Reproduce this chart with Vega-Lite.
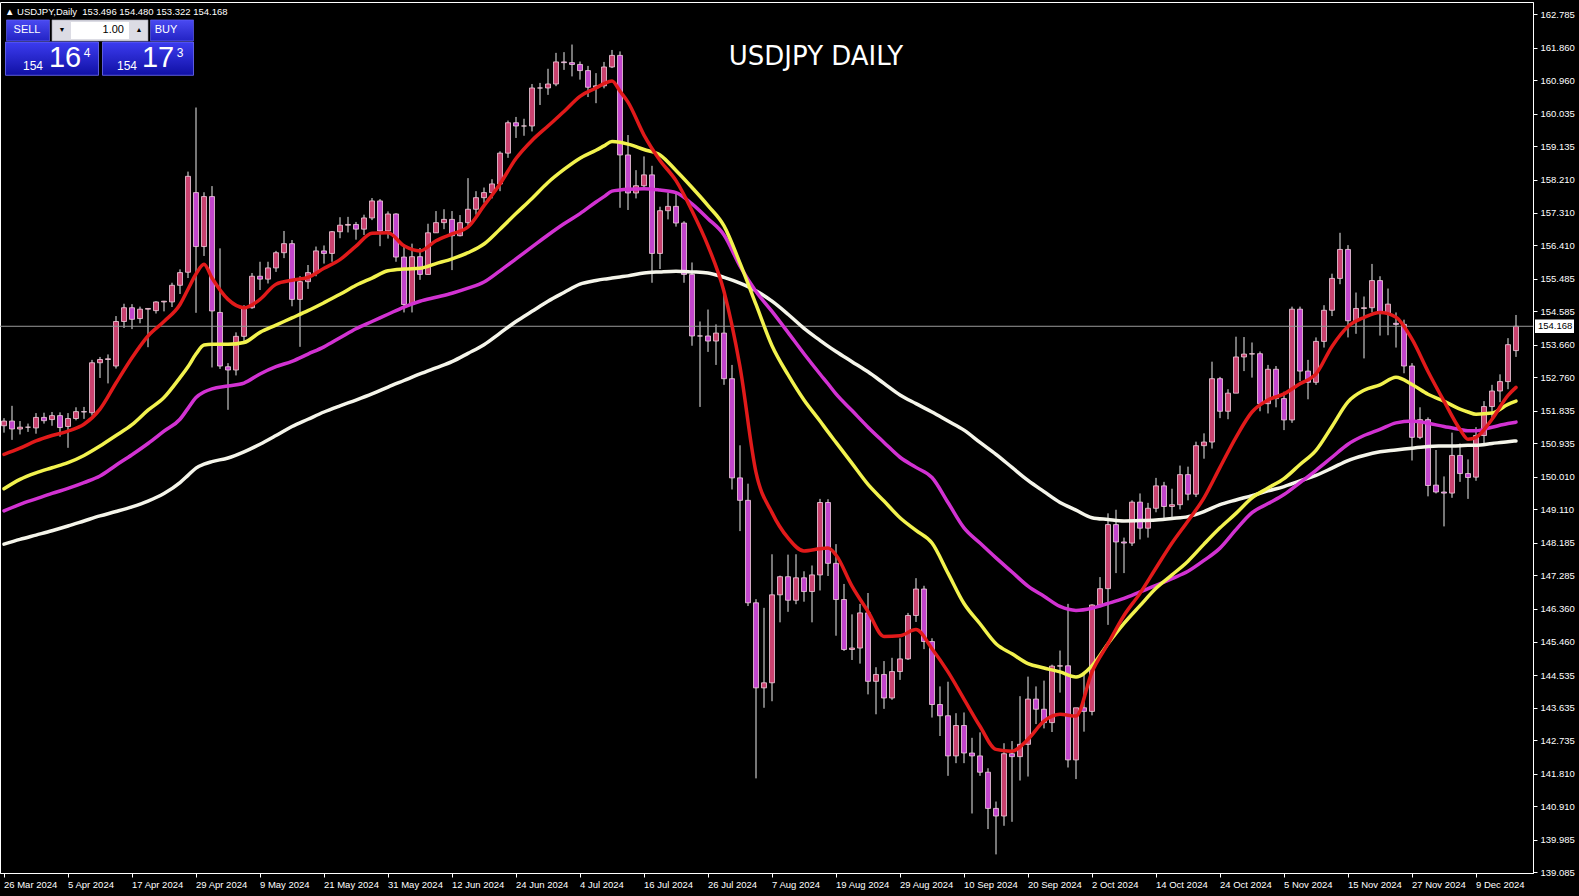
{
  "$schema": "https://vega.github.io/schema/vega-lite/v6.json",
  "width": 1533,
  "height": 871,
  "autosize": {"type": "none"},
  "padding": {"left": 0, "top": 2, "right": 46, "bottom": 23},
  "background": "#000000",
  "config": {
    "view": {"stroke": "#ffffff", "strokeWidth": 1, "fill": "#000000"},
    "font": "Liberation Sans",
    "axis": {"domainColor": "#ffffff", "tickColor": "#ffffff", "labelColor": "#ffffff", "grid": false}
  },
  "resolve": {"axis": {"x": "independent", "y": "independent"}},
  "datasets": {
    "bars": [
      {"d":"26 Mar 2024","o":151.42,"h":151.63,"l":151.23,"c":151.55},
      {"d":"27 Mar 2024","o":151.55,"h":151.97,"l":151.03,"c":151.33},
      {"d":"28 Mar 2024","o":151.33,"h":151.55,"l":151.18,"c":151.38},
      {"d":"29 Mar 2024","o":151.38,"h":151.48,"l":151.25,"c":151.38},
      {"d":"1 Apr 2024","o":151.36,"h":151.77,"l":151.20,"c":151.65},
      {"d":"2 Apr 2024","o":151.65,"h":151.78,"l":151.48,"c":151.56},
      {"d":"3 Apr 2024","o":151.59,"h":151.80,"l":151.42,"c":151.70},
      {"d":"4 Apr 2024","o":151.70,"h":151.79,"l":151.12,"c":151.37},
      {"d":"5 Apr 2024","o":151.40,"h":151.77,"l":150.81,"c":151.62},
      {"d":"8 Apr 2024","o":151.62,"h":151.93,"l":151.57,"c":151.81},
      {"d":"9 Apr 2024","o":151.81,"h":151.94,"l":151.61,"c":151.80},
      {"d":"10 Apr 2024","o":151.78,"h":153.24,"l":151.70,"c":153.16},
      {"d":"11 Apr 2024","o":153.16,"h":153.32,"l":152.74,"c":153.25},
      {"d":"12 Apr 2024","o":153.25,"h":153.39,"l":152.59,"c":153.27},
      {"d":"15 Apr 2024","o":153.07,"h":154.45,"l":153.00,"c":154.30},
      {"d":"16 Apr 2024","o":154.30,"h":154.79,"l":154.12,"c":154.68},
      {"d":"17 Apr 2024","o":154.68,"h":154.78,"l":154.09,"c":154.36},
      {"d":"18 Apr 2024","o":154.38,"h":154.71,"l":154.25,"c":154.64},
      {"d":"19 Apr 2024","o":154.64,"h":154.65,"l":153.59,"c":154.66},
      {"d":"22 Apr 2024","o":154.60,"h":154.86,"l":154.52,"c":154.84},
      {"d":"23 Apr 2024","o":154.84,"h":154.87,"l":154.58,"c":154.86},
      {"d":"24 Apr 2024","o":154.84,"h":155.37,"l":154.70,"c":155.30},
      {"d":"25 Apr 2024","o":155.30,"h":155.74,"l":155.06,"c":155.65},
      {"d":"26 Apr 2024","o":155.66,"h":158.44,"l":155.50,"c":158.31},
      {"d":"29 Apr 2024","o":157.86,"h":160.21,"l":154.54,"c":156.37},
      {"d":"30 Apr 2024","o":156.37,"h":157.87,"l":156.11,"c":157.75},
      {"d":"1 May 2024","o":157.75,"h":158.04,"l":153.03,"c":154.59},
      {"d":"2 May 2024","o":154.55,"h":156.32,"l":152.99,"c":153.07},
      {"d":"3 May 2024","o":153.05,"h":153.15,"l":151.86,"c":152.96},
      {"d":"6 May 2024","o":152.96,"h":154.00,"l":152.81,"c":153.89},
      {"d":"7 May 2024","o":153.89,"h":154.75,"l":153.74,"c":154.68},
      {"d":"8 May 2024","o":154.68,"h":155.64,"l":154.65,"c":155.55},
      {"d":"9 May 2024","o":155.55,"h":155.95,"l":155.17,"c":155.47},
      {"d":"10 May 2024","o":155.47,"h":155.95,"l":155.35,"c":155.78},
      {"d":"13 May 2024","o":155.78,"h":156.25,"l":155.67,"c":156.20},
      {"d":"14 May 2024","o":156.20,"h":156.80,"l":156.05,"c":156.45},
      {"d":"15 May 2024","o":156.45,"h":156.55,"l":154.72,"c":154.91},
      {"d":"16 May 2024","o":154.91,"h":155.55,"l":153.60,"c":155.40},
      {"d":"17 May 2024","o":155.40,"h":155.86,"l":155.20,"c":155.65},
      {"d":"20 May 2024","o":155.65,"h":156.37,"l":155.55,"c":156.25},
      {"d":"21 May 2024","o":156.25,"h":156.40,"l":155.90,"c":156.18},
      {"d":"22 May 2024","o":156.18,"h":156.80,"l":155.95,"c":156.78},
      {"d":"23 May 2024","o":156.78,"h":157.18,"l":156.60,"c":156.96},
      {"d":"24 May 2024","o":156.96,"h":157.19,"l":156.76,"c":156.98},
      {"d":"27 May 2024","o":156.98,"h":157.05,"l":156.56,"c":156.85},
      {"d":"28 May 2024","o":156.85,"h":157.25,"l":156.69,"c":157.16},
      {"d":"29 May 2024","o":157.16,"h":157.71,"l":157.10,"c":157.63},
      {"d":"30 May 2024","o":157.63,"h":157.68,"l":156.38,"c":156.80},
      {"d":"31 May 2024","o":156.80,"h":157.34,"l":156.59,"c":157.27},
      {"d":"3 Jun 2024","o":157.27,"h":157.29,"l":155.95,"c":156.08},
      {"d":"4 Jun 2024","o":156.08,"h":156.43,"l":154.55,"c":154.77},
      {"d":"5 Jun 2024","o":154.77,"h":156.45,"l":154.55,"c":156.09},
      {"d":"6 Jun 2024","o":156.09,"h":156.33,"l":155.45,"c":155.60},
      {"d":"7 Jun 2024","o":155.60,"h":157.00,"l":155.60,"c":156.75},
      {"d":"10 Jun 2024","o":156.75,"h":157.35,"l":156.75,"c":157.03},
      {"d":"11 Jun 2024","o":157.03,"h":157.40,"l":156.85,"c":157.12},
      {"d":"12 Jun 2024","o":157.12,"h":157.35,"l":155.72,"c":156.67},
      {"d":"13 Jun 2024","o":156.67,"h":157.24,"l":156.65,"c":157.03},
      {"d":"14 Jun 2024","o":157.03,"h":158.26,"l":156.90,"c":157.40},
      {"d":"17 Jun 2024","o":157.40,"h":157.90,"l":157.25,"c":157.72},
      {"d":"18 Jun 2024","o":157.72,"h":158.00,"l":157.58,"c":157.86},
      {"d":"19 Jun 2024","o":157.86,"h":158.23,"l":157.70,"c":158.10},
      {"d":"20 Jun 2024","o":158.10,"h":159.00,"l":157.90,"c":158.95},
      {"d":"21 Jun 2024","o":158.95,"h":159.85,"l":158.82,"c":159.79},
      {"d":"24 Jun 2024","o":159.79,"h":159.95,"l":159.37,"c":159.70},
      {"d":"25 Jun 2024","o":159.70,"h":159.90,"l":159.43,"c":159.70},
      {"d":"26 Jun 2024","o":159.70,"h":160.86,"l":159.55,"c":160.75},
      {"d":"27 Jun 2024","o":160.75,"h":160.89,"l":160.28,"c":160.75},
      {"d":"28 Jun 2024","o":160.75,"h":161.28,"l":160.56,"c":160.86},
      {"d":"1 Jul 2024","o":160.86,"h":161.72,"l":160.80,"c":161.47},
      {"d":"2 Jul 2024","o":161.47,"h":161.74,"l":161.25,"c":161.45},
      {"d":"3 Jul 2024","o":161.45,"h":161.95,"l":161.07,"c":161.40},
      {"d":"4 Jul 2024","o":161.40,"h":161.48,"l":160.98,"c":161.23},
      {"d":"5 Jul 2024","o":161.23,"h":161.36,"l":160.50,"c":160.77},
      {"d":"8 Jul 2024","o":160.77,"h":161.16,"l":160.33,"c":160.81},
      {"d":"9 Jul 2024","o":160.81,"h":161.47,"l":160.74,"c":161.33},
      {"d":"10 Jul 2024","o":161.33,"h":161.80,"l":161.30,"c":161.65},
      {"d":"11 Jul 2024","o":161.65,"h":161.76,"l":157.44,"c":158.90},
      {"d":"12 Jul 2024","o":158.90,"h":159.45,"l":157.38,"c":157.85},
      {"d":"15 Jul 2024","o":157.85,"h":158.48,"l":157.70,"c":158.05},
      {"d":"16 Jul 2024","o":158.05,"h":158.86,"l":157.93,"c":158.35},
      {"d":"17 Jul 2024","o":158.35,"h":158.60,"l":155.37,"c":156.18},
      {"d":"18 Jul 2024","o":156.18,"h":157.47,"l":155.75,"c":157.36},
      {"d":"19 Jul 2024","o":157.36,"h":157.86,"l":157.12,"c":157.48},
      {"d":"22 Jul 2024","o":157.48,"h":157.85,"l":156.92,"c":157.02},
      {"d":"23 Jul 2024","o":157.02,"h":157.07,"l":155.37,"c":155.60},
      {"d":"24 Jul 2024","o":155.60,"h":155.93,"l":153.63,"c":153.90},
      {"d":"25 Jul 2024","o":153.90,"h":154.30,"l":151.94,"c":153.90},
      {"d":"26 Jul 2024","o":153.90,"h":154.63,"l":153.46,"c":153.76},
      {"d":"29 Jul 2024","o":153.76,"h":154.22,"l":153.10,"c":153.98},
      {"d":"30 Jul 2024","o":153.98,"h":155.22,"l":152.55,"c":152.72},
      {"d":"31 Jul 2024","o":152.72,"h":153.10,"l":149.66,"c":149.98},
      {"d":"1 Aug 2024","o":149.98,"h":150.88,"l":148.51,"c":149.36},
      {"d":"2 Aug 2024","o":149.36,"h":149.82,"l":146.44,"c":146.53},
      {"d":"5 Aug 2024","o":146.53,"h":146.63,"l":141.68,"c":144.18},
      {"d":"6 Aug 2024","o":144.18,"h":146.39,"l":143.63,"c":144.32},
      {"d":"7 Aug 2024","o":144.32,"h":147.87,"l":143.81,"c":146.75},
      {"d":"8 Aug 2024","o":146.75,"h":147.28,"l":145.99,"c":147.25},
      {"d":"9 Aug 2024","o":147.25,"h":147.86,"l":146.28,"c":146.60},
      {"d":"12 Aug 2024","o":146.60,"h":147.87,"l":146.49,"c":147.22},
      {"d":"13 Aug 2024","o":147.22,"h":147.40,"l":146.56,"c":146.84},
      {"d":"14 Aug 2024","o":146.84,"h":147.56,"l":145.99,"c":147.30},
      {"d":"15 Aug 2024","o":147.30,"h":149.40,"l":146.87,"c":149.30},
      {"d":"16 Aug 2024","o":149.30,"h":149.39,"l":147.27,"c":147.62},
      {"d":"19 Aug 2024","o":147.62,"h":148.15,"l":145.62,"c":146.62},
      {"d":"20 Aug 2024","o":146.62,"h":147.05,"l":145.20,"c":145.24},
      {"d":"21 Aug 2024","o":145.24,"h":146.21,"l":144.95,"c":145.28},
      {"d":"22 Aug 2024","o":145.28,"h":146.50,"l":144.85,"c":146.25},
      {"d":"23 Aug 2024","o":146.25,"h":146.80,"l":144.00,"c":144.36},
      {"d":"26 Aug 2024","o":144.36,"h":144.75,"l":143.45,"c":144.55},
      {"d":"27 Aug 2024","o":144.55,"h":144.92,"l":143.60,"c":143.90},
      {"d":"28 Aug 2024","o":143.90,"h":145.01,"l":143.85,"c":144.63},
      {"d":"29 Aug 2024","o":144.63,"h":145.55,"l":144.40,"c":144.98},
      {"d":"30 Aug 2024","o":144.98,"h":146.25,"l":144.95,"c":146.18},
      {"d":"2 Sep 2024","o":146.18,"h":147.21,"l":146.00,"c":146.91},
      {"d":"3 Sep 2024","o":146.91,"h":147.00,"l":145.25,"c":145.46},
      {"d":"4 Sep 2024","o":145.46,"h":145.55,"l":143.36,"c":143.72},
      {"d":"5 Sep 2024","o":143.72,"h":144.22,"l":142.85,"c":143.41},
      {"d":"6 Sep 2024","o":143.41,"h":144.35,"l":141.75,"c":142.30},
      {"d":"9 Sep 2024","o":142.30,"h":143.48,"l":142.10,"c":143.14},
      {"d":"10 Sep 2024","o":143.14,"h":143.50,"l":142.10,"c":142.38},
      {"d":"11 Sep 2024","o":142.38,"h":142.80,"l":140.71,"c":142.30},
      {"d":"12 Sep 2024","o":142.30,"h":142.95,"l":141.75,"c":141.85},
      {"d":"13 Sep 2024","o":141.85,"h":141.96,"l":140.28,"c":140.85},
      {"d":"16 Sep 2024","o":140.85,"h":141.04,"l":139.58,"c":140.64},
      {"d":"17 Sep 2024","o":140.64,"h":142.65,"l":140.37,"c":142.36},
      {"d":"18 Sep 2024","o":142.36,"h":142.71,"l":140.48,"c":142.28},
      {"d":"19 Sep 2024","o":142.28,"h":143.95,"l":141.62,"c":142.62},
      {"d":"20 Sep 2024","o":142.62,"h":144.49,"l":141.73,"c":143.87},
      {"d":"23 Sep 2024","o":143.87,"h":144.22,"l":143.18,"c":143.59},
      {"d":"24 Sep 2024","o":143.59,"h":144.38,"l":143.06,"c":143.22},
      {"d":"25 Sep 2024","o":143.22,"h":144.82,"l":142.96,"c":144.78},
      {"d":"26 Sep 2024","o":144.78,"h":145.21,"l":144.05,"c":144.79},
      {"d":"27 Sep 2024","o":144.79,"h":146.50,"l":141.98,"c":142.19},
      {"d":"30 Sep 2024","o":142.19,"h":143.48,"l":141.66,"c":143.63},
      {"d":"1 Oct 2024","o":143.63,"h":144.54,"l":142.97,"c":143.53},
      {"d":"2 Oct 2024","o":143.53,"h":146.49,"l":143.42,"c":146.47},
      {"d":"3 Oct 2024","o":146.47,"h":147.24,"l":146.41,"c":146.92},
      {"d":"4 Oct 2024","o":146.92,"h":149.00,"l":145.92,"c":148.69},
      {"d":"7 Oct 2024","o":148.69,"h":149.10,"l":147.35,"c":148.21},
      {"d":"8 Oct 2024","o":148.21,"h":148.33,"l":147.35,"c":148.18},
      {"d":"9 Oct 2024","o":148.18,"h":149.36,"l":148.10,"c":149.31},
      {"d":"10 Oct 2024","o":149.31,"h":149.55,"l":148.28,"c":148.59},
      {"d":"11 Oct 2024","o":148.59,"h":149.29,"l":148.33,"c":149.14},
      {"d":"14 Oct 2024","o":149.14,"h":149.98,"l":149.03,"c":149.76},
      {"d":"15 Oct 2024","o":149.76,"h":149.87,"l":148.85,"c":149.19},
      {"d":"16 Oct 2024","o":149.19,"h":149.68,"l":148.87,"c":149.24},
      {"d":"17 Oct 2024","o":149.24,"h":150.32,"l":149.11,"c":150.07},
      {"d":"18 Oct 2024","o":150.07,"h":150.29,"l":149.36,"c":149.53},
      {"d":"21 Oct 2024","o":149.53,"h":150.98,"l":149.45,"c":150.87},
      {"d":"22 Oct 2024","o":150.87,"h":151.21,"l":150.51,"c":150.97},
      {"d":"23 Oct 2024","o":150.97,"h":153.19,"l":150.79,"c":152.72},
      {"d":"24 Oct 2024","o":152.72,"h":152.77,"l":151.63,"c":151.82},
      {"d":"25 Oct 2024","o":151.82,"h":152.43,"l":151.60,"c":152.32},
      {"d":"28 Oct 2024","o":152.32,"h":153.88,"l":152.32,"c":153.32},
      {"d":"29 Oct 2024","o":153.32,"h":153.87,"l":152.93,"c":153.40},
      {"d":"30 Oct 2024","o":153.40,"h":153.72,"l":152.75,"c":153.41},
      {"d":"31 Oct 2024","o":153.41,"h":153.47,"l":151.82,"c":152.03},
      {"d":"1 Nov 2024","o":152.03,"h":153.10,"l":151.76,"c":152.98},
      {"d":"4 Nov 2024","o":152.98,"h":153.07,"l":151.93,"c":152.17},
      {"d":"5 Nov 2024","o":152.17,"h":152.36,"l":151.30,"c":151.58},
      {"d":"6 Nov 2024","o":151.58,"h":154.71,"l":151.50,"c":154.64},
      {"d":"7 Nov 2024","o":154.64,"h":154.71,"l":152.65,"c":152.93},
      {"d":"8 Nov 2024","o":152.93,"h":153.24,"l":152.15,"c":152.62},
      {"d":"11 Nov 2024","o":152.62,"h":153.86,"l":152.55,"c":153.75},
      {"d":"12 Nov 2024","o":153.75,"h":154.75,"l":153.58,"c":154.61},
      {"d":"13 Nov 2024","o":154.61,"h":155.62,"l":154.45,"c":155.49},
      {"d":"14 Nov 2024","o":155.49,"h":156.75,"l":155.33,"c":156.29},
      {"d":"15 Nov 2024","o":156.29,"h":156.41,"l":153.86,"c":154.32},
      {"d":"18 Nov 2024","o":154.32,"h":155.10,"l":153.96,"c":154.66},
      {"d":"19 Nov 2024","o":154.66,"h":154.99,"l":153.28,"c":154.68},
      {"d":"20 Nov 2024","o":154.68,"h":155.89,"l":154.55,"c":155.43},
      {"d":"21 Nov 2024","o":155.43,"h":155.55,"l":153.91,"c":154.53},
      {"d":"22 Nov 2024","o":154.53,"h":155.21,"l":153.92,"c":154.78},
      {"d":"25 Nov 2024","o":154.25,"h":154.55,"l":153.58,"c":154.22},
      {"d":"26 Nov 2024","o":154.22,"h":154.35,"l":152.87,"c":153.07},
      {"d":"27 Nov 2024","o":153.07,"h":153.15,"l":150.46,"c":151.10},
      {"d":"28 Nov 2024","o":151.10,"h":151.93,"l":151.05,"c":151.59},
      {"d":"29 Nov 2024","o":151.59,"h":151.65,"l":149.47,"c":149.77},
      {"d":"2 Dec 2024","o":149.78,"h":150.75,"l":149.55,"c":149.59},
      {"d":"3 Dec 2024","o":149.59,"h":150.02,"l":148.64,"c":149.56},
      {"d":"4 Dec 2024","o":149.56,"h":151.23,"l":149.43,"c":150.60},
      {"d":"5 Dec 2024","o":150.60,"h":150.93,"l":149.87,"c":150.10},
      {"d":"6 Dec 2024","o":150.10,"h":150.49,"l":149.40,"c":149.99},
      {"d":"9 Dec 2024","o":150.00,"h":151.38,"l":149.90,"c":151.15},
      {"d":"10 Dec 2024","o":151.15,"h":152.10,"l":150.90,"c":151.95},
      {"d":"11 Dec 2024","o":151.95,"h":152.55,"l":151.60,"c":152.38},
      {"d":"12 Dec 2024","o":152.38,"h":152.84,"l":152.07,"c":152.64},
      {"d":"13 Dec 2024","o":152.64,"h":153.84,"l":152.43,"c":153.66},
      {"d":"16 Dec 2024","o":153.496,"h":154.480,"l":153.322,"c":154.168}
    ],
    "ma": [
      {"d":"26 Mar 2024","fast":150.63,"mid":149.68,"slow":149.07,"long":148.15},
      {"d":"28 Mar 2024","fast":150.80,"mid":149.94,"slow":149.25,"long":148.28},
      {"d":"1 Apr 2024","fast":151.00,"mid":150.12,"slow":149.40,"long":148.40},
      {"d":"3 Apr 2024","fast":151.15,"mid":150.26,"slow":149.55,"long":148.52},
      {"d":"5 Apr 2024","fast":151.27,"mid":150.40,"slow":149.69,"long":148.65},
      {"d":"9 Apr 2024","fast":151.46,"mid":150.60,"slow":149.85,"long":148.79},
      {"d":"11 Apr 2024","fast":151.88,"mid":150.86,"slow":150.03,"long":148.93},
      {"d":"15 Apr 2024","fast":152.60,"mid":151.15,"slow":150.33,"long":149.05},
      {"d":"17 Apr 2024","fast":153.30,"mid":151.45,"slow":150.62,"long":149.18},
      {"d":"19 Apr 2024","fast":153.90,"mid":151.85,"slow":150.93,"long":149.34},
      {"d":"23 Apr 2024","fast":154.30,"mid":152.20,"slow":151.27,"long":149.55},
      {"d":"25 Apr 2024","fast":154.77,"mid":152.75,"slow":151.60,"long":149.85},
      {"d":"26 Apr 2024","fast":155.19,"mid":153.05,"slow":151.90,"long":150.05},
      {"d":"29 Apr 2024","fast":155.61,"mid":153.40,"slow":152.20,"long":150.25},
      {"d":"30 Apr 2024","fast":155.88,"mid":153.65,"slow":152.35,"long":150.36},
      {"d":"1 May 2024","fast":155.50,"mid":153.67,"slow":152.44,"long":150.43},
      {"d":"3 May 2024","fast":154.91,"mid":153.67,"slow":152.52,"long":150.53},
      {"d":"7 May 2024","fast":154.68,"mid":153.72,"slow":152.60,"long":150.70},
      {"d":"9 May 2024","fast":154.91,"mid":154.00,"slow":152.85,"long":150.91},
      {"d":"13 May 2024","fast":155.33,"mid":154.20,"slow":153.05,"long":151.15},
      {"d":"15 May 2024","fast":155.44,"mid":154.40,"slow":153.20,"long":151.40},
      {"d":"17 May 2024","fast":155.52,"mid":154.60,"slow":153.40,"long":151.60},
      {"d":"21 May 2024","fast":155.77,"mid":154.82,"slow":153.60,"long":151.80},
      {"d":"23 May 2024","fast":156.01,"mid":155.05,"slow":153.85,"long":151.97},
      {"d":"27 May 2024","fast":156.38,"mid":155.30,"slow":154.10,"long":152.13},
      {"d":"29 May 2024","fast":156.74,"mid":155.50,"slow":154.30,"long":152.30},
      {"d":"31 May 2024","fast":156.75,"mid":155.70,"slow":154.50,"long":152.49},
      {"d":"4 Jun 2024","fast":156.39,"mid":155.75,"slow":154.70,"long":152.67},
      {"d":"6 Jun 2024","fast":156.25,"mid":155.77,"slow":154.86,"long":152.85},
      {"d":"10 Jun 2024","fast":156.53,"mid":155.90,"slow":154.97,"long":153.02},
      {"d":"12 Jun 2024","fast":156.72,"mid":156.03,"slow":155.08,"long":153.19},
      {"d":"14 Jun 2024","fast":156.91,"mid":156.20,"slow":155.22,"long":153.42},
      {"d":"18 Jun 2024","fast":157.50,"mid":156.44,"slow":155.39,"long":153.66},
      {"d":"20 Jun 2024","fast":158.10,"mid":156.85,"slow":155.70,"long":153.98},
      {"d":"24 Jun 2024","fast":158.80,"mid":157.28,"slow":156.03,"long":154.30},
      {"d":"26 Jun 2024","fast":159.30,"mid":157.70,"slow":156.36,"long":154.58},
      {"d":"28 Jun 2024","fast":159.70,"mid":158.14,"slow":156.69,"long":154.86},
      {"d":"2 Jul 2024","fast":160.10,"mid":158.50,"slow":157.00,"long":155.10},
      {"d":"4 Jul 2024","fast":160.52,"mid":158.81,"slow":157.28,"long":155.33},
      {"d":"8 Jul 2024","fast":160.75,"mid":159.03,"slow":157.60,"long":155.43},
      {"d":"9 Jul 2024","fast":160.87,"mid":159.15,"slow":157.75,"long":155.47},
      {"d":"10 Jul 2024","fast":160.94,"mid":159.27,"slow":157.90,"long":155.50},
      {"d":"11 Jul 2024","fast":160.66,"mid":159.25,"slow":157.93,"long":155.53},
      {"d":"12 Jul 2024","fast":160.36,"mid":159.20,"slow":157.95,"long":155.56},
      {"d":"16 Jul 2024","fast":159.45,"mid":159.05,"slow":157.97,"long":155.64},
      {"d":"18 Jul 2024","fast":158.75,"mid":158.90,"slow":157.93,"long":155.67},
      {"d":"22 Jul 2024","fast":158.19,"mid":158.47,"slow":157.86,"long":155.69},
      {"d":"24 Jul 2024","fast":157.36,"mid":158.00,"slow":157.55,"long":155.67},
      {"d":"26 Jul 2024","fast":156.39,"mid":157.50,"slow":157.14,"long":155.64},
      {"d":"30 Jul 2024","fast":155.13,"mid":156.94,"slow":156.69,"long":155.52},
      {"d":"1 Aug 2024","fast":153.05,"mid":155.91,"slow":155.83,"long":155.36},
      {"d":"5 Aug 2024","fast":150.13,"mid":154.77,"slow":155.13,"long":155.15},
      {"d":"7 Aug 2024","fast":149.02,"mid":153.63,"slow":154.58,"long":154.86},
      {"d":"9 Aug 2024","fast":148.32,"mid":152.83,"slow":154.00,"long":154.50},
      {"d":"13 Aug 2024","fast":147.96,"mid":152.13,"slow":153.41,"long":154.11},
      {"d":"15 Aug 2024","fast":148.02,"mid":151.55,"slow":152.85,"long":153.78},
      {"d":"16 Aug 2024","fast":148.04,"mid":151.25,"slow":152.58,"long":153.62},
      {"d":"19 Aug 2024","fast":147.85,"mid":150.96,"slow":152.30,"long":153.47},
      {"d":"21 Aug 2024","fast":146.99,"mid":150.38,"slow":151.84,"long":153.19},
      {"d":"23 Aug 2024","fast":146.29,"mid":149.80,"slow":151.38,"long":152.91},
      {"d":"27 Aug 2024","fast":145.60,"mid":149.34,"slow":150.96,"long":152.59},
      {"d":"29 Aug 2024","fast":145.62,"mid":148.88,"slow":150.55,"long":152.27},
      {"d":"2 Sep 2024","fast":145.79,"mid":148.53,"slow":150.27,"long":152.03},
      {"d":"4 Sep 2024","fast":145.26,"mid":148.18,"slow":149.99,"long":151.80},
      {"d":"6 Sep 2024","fast":144.62,"mid":147.35,"slow":149.30,"long":151.55},
      {"d":"10 Sep 2024","fast":143.87,"mid":146.51,"slow":148.60,"long":151.30},
      {"d":"12 Sep 2024","fast":143.12,"mid":145.95,"slow":148.18,"long":150.96},
      {"d":"16 Sep 2024","fast":142.48,"mid":145.40,"slow":147.77,"long":150.63},
      {"d":"18 Sep 2024","fast":142.43,"mid":145.12,"slow":147.38,"long":150.27},
      {"d":"20 Sep 2024","fast":142.76,"mid":144.85,"slow":146.99,"long":149.91},
      {"d":"24 Sep 2024","fast":143.26,"mid":144.73,"slow":146.71,"long":149.60},
      {"d":"26 Sep 2024","fast":143.45,"mid":144.62,"slow":146.43,"long":149.30},
      {"d":"30 Sep 2024","fast":143.40,"mid":144.48,"slow":146.32,"long":149.09},
      {"d":"2 Oct 2024","fast":144.62,"mid":144.79,"slow":146.38,"long":148.88},
      {"d":"4 Oct 2024","fast":145.40,"mid":145.40,"slow":146.51,"long":148.83},
      {"d":"8 Oct 2024","fast":146.18,"mid":145.96,"slow":146.65,"long":148.79},
      {"d":"10 Oct 2024","fast":146.79,"mid":146.45,"slow":146.83,"long":148.80},
      {"d":"14 Oct 2024","fast":147.49,"mid":146.93,"slow":147.01,"long":148.82},
      {"d":"16 Oct 2024","fast":148.18,"mid":147.30,"slow":147.20,"long":148.86},
      {"d":"18 Oct 2024","fast":148.79,"mid":147.68,"slow":147.40,"long":148.91},
      {"d":"22 Oct 2024","fast":149.43,"mid":148.15,"slow":147.70,"long":149.05},
      {"d":"24 Oct 2024","fast":150.27,"mid":148.60,"slow":148.04,"long":149.24},
      {"d":"28 Oct 2024","fast":151.10,"mid":149.00,"slow":148.55,"long":149.37},
      {"d":"30 Oct 2024","fast":151.80,"mid":149.43,"slow":149.02,"long":149.49},
      {"d":"1 Nov 2024","fast":152.13,"mid":149.70,"slow":149.27,"long":149.62},
      {"d":"5 Nov 2024","fast":152.30,"mid":149.96,"slow":149.52,"long":149.74},
      {"d":"7 Nov 2024","fast":152.58,"mid":150.35,"slow":149.85,"long":149.90},
      {"d":"11 Nov 2024","fast":152.85,"mid":150.74,"slow":150.19,"long":150.05},
      {"d":"13 Nov 2024","fast":153.61,"mid":151.40,"slow":150.55,"long":150.25},
      {"d":"15 Nov 2024","fast":154.16,"mid":152.08,"slow":150.91,"long":150.46},
      {"d":"19 Nov 2024","fast":154.41,"mid":152.40,"slow":151.15,"long":150.60},
      {"d":"21 Nov 2024","fast":154.55,"mid":152.55,"slow":151.32,"long":150.70},
      {"d":"25 Nov 2024","fast":154.42,"mid":152.76,"slow":151.50,"long":150.75},
      {"d":"27 Nov 2024","fast":153.81,"mid":152.56,"slow":151.55,"long":150.80},
      {"d":"29 Nov 2024","fast":152.92,"mid":152.29,"slow":151.49,"long":150.85},
      {"d":"3 Dec 2024","fast":152.10,"mid":152.10,"slow":151.40,"long":150.86},
      {"d":"5 Dec 2024","fast":151.32,"mid":151.88,"slow":151.32,"long":150.87},
      {"d":"6 Dec 2024","fast":151.05,"mid":151.80,"slow":151.28,"long":150.88},
      {"d":"9 Dec 2024","fast":151.10,"mid":151.74,"slow":151.28,"long":150.88},
      {"d":"11 Dec 2024","fast":151.60,"mid":151.77,"slow":151.38,"long":150.93},
      {"d":"13 Dec 2024","fast":152.26,"mid":152.01,"slow":151.48,"long":150.98},
      {"d":"16 Dec 2024","fast":152.48,"mid":152.10,"slow":151.52,"long":151.00}
    ]
  },
  "layer": [
    {
      "data": {"name": "bars"},
      "mark": {"type": "rule", "color": "#ececec", "strokeWidth": 1},
      "encoding": {
        "x": {
          "field": "d", "type": "ordinal",
          "scale": {
            "type": "band", "paddingInner": 0, "paddingOuter": 0.8125, "align": 0,
            "domain": ["26 Mar 2024","27 Mar 2024","28 Mar 2024","29 Mar 2024","1 Apr 2024","2 Apr 2024","3 Apr 2024","4 Apr 2024","5 Apr 2024","8 Apr 2024","9 Apr 2024","10 Apr 2024","11 Apr 2024","12 Apr 2024","15 Apr 2024","16 Apr 2024","17 Apr 2024","18 Apr 2024","19 Apr 2024","22 Apr 2024","23 Apr 2024","24 Apr 2024","25 Apr 2024","26 Apr 2024","29 Apr 2024","30 Apr 2024","1 May 2024","2 May 2024","3 May 2024","6 May 2024","7 May 2024","8 May 2024","9 May 2024","10 May 2024","13 May 2024","14 May 2024","15 May 2024","16 May 2024","17 May 2024","20 May 2024","21 May 2024","22 May 2024","23 May 2024","24 May 2024","27 May 2024","28 May 2024","29 May 2024","30 May 2024","31 May 2024","3 Jun 2024","4 Jun 2024","5 Jun 2024","6 Jun 2024","7 Jun 2024","10 Jun 2024","11 Jun 2024","12 Jun 2024","13 Jun 2024","14 Jun 2024","17 Jun 2024","18 Jun 2024","19 Jun 2024","20 Jun 2024","21 Jun 2024","24 Jun 2024","25 Jun 2024","26 Jun 2024","27 Jun 2024","28 Jun 2024","1 Jul 2024","2 Jul 2024","3 Jul 2024","4 Jul 2024","5 Jul 2024","8 Jul 2024","9 Jul 2024","10 Jul 2024","11 Jul 2024","12 Jul 2024","15 Jul 2024","16 Jul 2024","17 Jul 2024","18 Jul 2024","19 Jul 2024","22 Jul 2024","23 Jul 2024","24 Jul 2024","25 Jul 2024","26 Jul 2024","29 Jul 2024","30 Jul 2024","31 Jul 2024","1 Aug 2024","2 Aug 2024","5 Aug 2024","6 Aug 2024","7 Aug 2024","8 Aug 2024","9 Aug 2024","12 Aug 2024","13 Aug 2024","14 Aug 2024","15 Aug 2024","16 Aug 2024","19 Aug 2024","20 Aug 2024","21 Aug 2024","22 Aug 2024","23 Aug 2024","26 Aug 2024","27 Aug 2024","28 Aug 2024","29 Aug 2024","30 Aug 2024","2 Sep 2024","3 Sep 2024","4 Sep 2024","5 Sep 2024","6 Sep 2024","9 Sep 2024","10 Sep 2024","11 Sep 2024","12 Sep 2024","13 Sep 2024","16 Sep 2024","17 Sep 2024","18 Sep 2024","19 Sep 2024","20 Sep 2024","23 Sep 2024","24 Sep 2024","25 Sep 2024","26 Sep 2024","27 Sep 2024","30 Sep 2024","1 Oct 2024","2 Oct 2024","3 Oct 2024","4 Oct 2024","7 Oct 2024","8 Oct 2024","9 Oct 2024","10 Oct 2024","11 Oct 2024","14 Oct 2024","15 Oct 2024","16 Oct 2024","17 Oct 2024","18 Oct 2024","21 Oct 2024","22 Oct 2024","23 Oct 2024","24 Oct 2024","25 Oct 2024","28 Oct 2024","29 Oct 2024","30 Oct 2024","31 Oct 2024","1 Nov 2024","4 Nov 2024","5 Nov 2024","6 Nov 2024","7 Nov 2024","8 Nov 2024","11 Nov 2024","12 Nov 2024","13 Nov 2024","14 Nov 2024","15 Nov 2024","18 Nov 2024","19 Nov 2024","20 Nov 2024","21 Nov 2024","22 Nov 2024","25 Nov 2024","26 Nov 2024","27 Nov 2024","28 Nov 2024","29 Nov 2024","2 Dec 2024","3 Dec 2024","4 Dec 2024","5 Dec 2024","6 Dec 2024","9 Dec 2024","10 Dec 2024","11 Dec 2024","12 Dec 2024","13 Dec 2024","16 Dec 2024"]
          },
          "axis": {
            "orient": "bottom", "title": null,
            "values": ["26 Mar 2024","5 Apr 2024","17 Apr 2024","29 Apr 2024","9 May 2024","21 May 2024","31 May 2024","12 Jun 2024","24 Jun 2024","4 Jul 2024","16 Jul 2024","26 Jul 2024","7 Aug 2024","19 Aug 2024","29 Aug 2024","10 Sep 2024","20 Sep 2024","2 Oct 2024","14 Oct 2024","24 Oct 2024","5 Nov 2024","15 Nov 2024","27 Nov 2024","9 Dec 2024"],
            "labelAngle": 0, "labelAlign": "left", "labelBaseline": "top", "labelFontSize": 9.5,
            "labelPadding": 2, "tickSize": 4, "labelOverlap": false, "labelBound": false, "labelFlush": false
          }
        },
        "y": {
          "field": "l", "type": "quantitative",
          "scale": {"domain": [139.066, 163.125], "nice": false, "zero": false},
          "axis": {
            "orient": "right", "title": null,
            "values": [162.785,161.86,160.96,160.035,159.135,158.21,157.31,156.41,155.485,154.585,153.66,152.76,151.835,150.935,150.01,149.11,148.185,147.285,146.36,145.46,144.535,143.635,142.735,141.81,140.91,139.985,139.085],
            "format": ".3f", "labelFontSize": 9.5, "tickSize": 4, "labelPadding": 3,
            "labelOverlap": false, "labelBound": false, "labelFlush": false
          }
        },
        "y2": {"field": "h"}
      }
    },
    {
      "data": {"name": "bars"},
      "mark": {"type": "bar", "width": {"band": 0.625}, "stroke": "#f2cfe0", "strokeWidth": 0.8},
      "encoding": {
        "x": {"field": "d", "type": "ordinal", "axis": null},
        "y": {"field": "o", "type": "quantitative", "axis": null},
        "y2": {"field": "c"},
        "color": {"condition": {"test": "datum.c >= datum.o", "value": "#c9426f"}, "value": "#c246cc"}
      }
    },
    {
      "data": {"values": [{}]},
      "mark": {"type": "rule", "color": "#9a9a9a", "strokeWidth": 1},
      "encoding": {"y": {"datum": 154.168, "type": "quantitative", "axis": null}}
    },
    {
      "data": {"name": "ma"},
      "transform": [
        {"fold": ["long", "slow", "mid", "fast"], "as": ["ma", "v"]},
        {"filter": "isValid(datum.v)"}
      ],
      "mark": {"type": "line", "interpolate": "monotone", "strokeWidth": 3.5, "strokeCap": "round", "strokeJoin": "round"},
      "encoding": {
        "x": {"field": "d", "type": "ordinal", "axis": null},
        "y": {"field": "v", "type": "quantitative", "axis": null},
        "color": {
          "field": "ma", "type": "nominal", "legend": null,
          "scale": {"domain": ["fast", "mid", "slow", "long"], "range": ["#e11a1a", "#f2f24e", "#d232d2", "#f5f5ea"]}
        },
        "order": {"value": null}
      }
    },
    {
      "data": {"values": [{}]},
      "mark": {"type": "point", "shape": "M0.1,-0.34H2.05V0.34H0.1Z", "size": 1600, "filled": true, "color": "#ffffff", "opacity": 1},
      "encoding": {"x": {"value": "width"}, "y": {"datum": 154.168, "type": "quantitative", "axis": null}}
    },
    {
      "data": {"values": [{}]},
      "mark": {"type": "text", "align": "left", "baseline": "middle", "dx": 5, "fontSize": 9.5, "color": "#000000"},
      "encoding": {"x": {"value": "width"}, "y": {"datum": 154.168, "type": "quantitative", "axis": null}, "text": {"value": "154.168"}}
    },
    {
      "data": {"values": [{}]},
      "mark": {"type": "text", "align": "left", "baseline": "middle", "dx": 1, "fontSize": 9.5, "color": "#ffffff"},
      "encoding": {
        "x": {"datum": "26 Mar 2024", "type": "ordinal", "axis": null},
        "y": {"datum": 162.86, "type": "quantitative", "axis": null},
        "text": {"value": "▲ USDJPY,Daily\u00a0\u00a0153.496 154.480 153.322 154.168"}
      }
    },
    {
      "data": {"values": [{}]},
      "mark": {"type": "text", "align": "center", "baseline": "middle", "dx": 4, "fontSize": 26, "font": "DejaVu Sans", "color": "#ffffff"},
      "encoding": {
        "x": {"datum": "14 Aug 2024", "type": "ordinal", "axis": null},
        "y": {"datum": 161.6, "type": "quantitative", "axis": null},
        "text": {"value": "USDJPY DAILY"}
      }
    },
    {
      "data": {"values": [{}]},
      "mark": {"type": "bar", "width": 43, "stroke": "#6a6aff", "strokeWidth": 0.6,
        "color": {"gradient": "linear", "x1": 0, "y1": 0, "x2": 0, "y2": 1, "stops": [{"offset": 0, "color": "#4a4af2"}, {"offset": 1, "color": "#2323c4"}]}},
      "encoding": {
        "x": {"datum": "29 Mar 2024", "type": "ordinal", "axis": null},
        "y": {"datum": 162.63, "type": "quantitative", "axis": null},
        "y2": {"datum": 162.05}
      }
    },
    {
      "data": {"values": [{}]},
      "mark": {"type": "bar", "width": 43, "stroke": "#6a6aff", "strokeWidth": 0.6,
        "color": {"gradient": "linear", "x1": 0, "y1": 0, "x2": 0, "y2": 1, "stops": [{"offset": 0, "color": "#4a4af2"}, {"offset": 1, "color": "#2323c4"}]}},
      "encoding": {
        "x": {"datum": "24 Apr 2024", "type": "ordinal", "axis": null},
        "y": {"datum": 162.63, "type": "quantitative", "axis": null},
        "y2": {"datum": 162.05}
      }
    },
    {
      "data": {"values": [{}]},
      "mark": {"type": "bar", "width": 96, "color": "#dcdce4", "stroke": "#9a9aa8", "strokeWidth": 0.6},
      "encoding": {
        "x": {"datum": "11 Apr 2024", "type": "ordinal", "axis": null},
        "y": {"datum": 162.63, "type": "quantitative", "axis": null},
        "y2": {"datum": 162.05}
      }
    },
    {
      "data": {"values": [{}]},
      "mark": {"type": "bar", "width": 58, "color": "#ffffff"},
      "encoding": {
        "x": {"datum": "11 Apr 2024", "type": "ordinal", "axis": null},
        "y": {"datum": 162.575, "type": "quantitative", "axis": null},
        "y2": {"datum": 162.105}
      }
    },
    {
      "data": {"values": [{}]},
      "mark": {"type": "bar", "width": 93, "stroke": "#7070ff", "strokeWidth": 0.8,
        "color": {"gradient": "linear", "x1": 0, "y1": 0, "x2": 0, "y2": 1, "stops": [{"offset": 0, "color": "#3c3cf0"}, {"offset": 1, "color": "#1010a4"}]}},
      "encoding": {
        "x": {"datum": "3 Apr 2024", "type": "ordinal", "axis": null},
        "y": {"datum": 162.02, "type": "quantitative", "axis": null},
        "y2": {"datum": 161.1}
      }
    },
    {
      "data": {"values": [{}]},
      "mark": {"type": "bar", "width": 91, "stroke": "#7070ff", "strokeWidth": 0.8,
        "color": {"gradient": "linear", "x1": 0, "y1": 0, "x2": 0, "y2": 1, "stops": [{"offset": 0, "color": "#3c3cf0"}, {"offset": 1, "color": "#1010a4"}]}},
      "encoding": {
        "x": {"datum": "19 Apr 2024", "type": "ordinal", "axis": null},
        "y": {"datum": 162.02, "type": "quantitative", "axis": null},
        "y2": {"datum": 161.1}
      }
    },
    {
      "data": {"values": [{}]},
      "mark": {"type": "text", "align": "center", "baseline": "middle", "dx": -1, "fontSize": 11, "color": "#ffffff"},
      "encoding": {"x": {"datum": "29 Mar 2024", "type": "ordinal", "axis": null}, "y": {"datum": 162.345, "type": "quantitative", "axis": null}, "text": {"value": "SELL"}}
    },
    {
      "data": {"values": [{}]},
      "mark": {"type": "text", "align": "center", "baseline": "middle", "dx": 2, "fontSize": 11, "color": "#ffffff"},
      "encoding": {"x": {"datum": "23 Apr 2024", "type": "ordinal", "axis": null}, "y": {"datum": 162.345, "type": "quantitative", "axis": null}, "text": {"value": "BUY"}}
    },
    {
      "data": {"values": [{}]},
      "mark": {"type": "text", "align": "right", "baseline": "middle", "dx": 0, "fontSize": 11, "color": "#000000"},
      "encoding": {"x": {"datum": "16 Apr 2024", "type": "ordinal", "axis": null}, "y": {"datum": 162.345, "type": "quantitative", "axis": null}, "text": {"value": "1.00"}}
    },
    {
      "data": {"values": [{}]},
      "mark": {"type": "text", "align": "center", "baseline": "middle", "dx": 2, "fontSize": 7, "color": "#000000"},
      "encoding": {"x": {"datum": "4 Apr 2024", "type": "ordinal", "axis": null}, "y": {"datum": 162.345, "type": "quantitative", "axis": null}, "text": {"value": "▼"}}
    },
    {
      "data": {"values": [{}]},
      "mark": {"type": "text", "align": "center", "baseline": "middle", "dx": -1, "fontSize": 7, "color": "#000000"},
      "encoding": {"x": {"datum": "18 Apr 2024", "type": "ordinal", "axis": null}, "y": {"datum": 162.345, "type": "quantitative", "axis": null}, "text": {"value": "▲"}}
    },
    {
      "data": {"values": [{}]},
      "mark": {"type": "text", "align": "center", "baseline": "middle", "dx": -3, "fontSize": 12, "color": "#ffffff"},
      "encoding": {"x": {"datum": "1 Apr 2024", "type": "ordinal", "axis": null}, "y": {"datum": 161.36, "type": "quantitative", "axis": null}, "text": {"value": "154"}}
    },
    {
      "data": {"values": [{}]},
      "mark": {"type": "text", "align": "center", "baseline": "middle", "dx": -3, "fontSize": 29, "color": "#ffffff"},
      "encoding": {"x": {"datum": "5 Apr 2024", "type": "ordinal", "axis": null}, "y": {"datum": 161.57, "type": "quantitative", "axis": null}, "text": {"value": "16"}}
    },
    {
      "data": {"values": [{}]},
      "mark": {"type": "text", "align": "center", "baseline": "middle", "dx": 3, "fontSize": 12, "color": "#ffffff"},
      "encoding": {"x": {"datum": "9 Apr 2024", "type": "ordinal", "axis": null}, "y": {"datum": 161.73, "type": "quantitative", "axis": null}, "text": {"value": "4"}}
    },
    {
      "data": {"values": [{}]},
      "mark": {"type": "text", "align": "center", "baseline": "middle", "dx": 3, "fontSize": 12, "color": "#ffffff"},
      "encoding": {"x": {"datum": "16 Apr 2024", "type": "ordinal", "axis": null}, "y": {"datum": 161.36, "type": "quantitative", "axis": null}, "text": {"value": "154"}}
    },
    {
      "data": {"values": [{}]},
      "mark": {"type": "text", "align": "center", "baseline": "middle", "dx": 2, "fontSize": 29, "color": "#ffffff"},
      "encoding": {"x": {"datum": "22 Apr 2024", "type": "ordinal", "axis": null}, "y": {"datum": 161.57, "type": "quantitative", "axis": null}, "text": {"value": "17"}}
    },
    {
      "data": {"values": [{}]},
      "mark": {"type": "text", "align": "center", "baseline": "middle", "dx": 0, "fontSize": 12, "color": "#ffffff"},
      "encoding": {"x": {"datum": "25 Apr 2024", "type": "ordinal", "axis": null}, "y": {"datum": 161.73, "type": "quantitative", "axis": null}, "text": {"value": "3"}}
    }
  ]
}
